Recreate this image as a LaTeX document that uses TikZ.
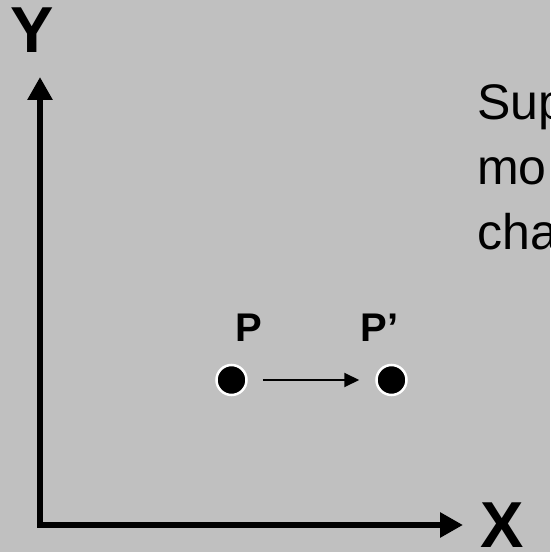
\documentclass[tikz,border=0pt]{standalone}
\usepackage{fontspec}
\setmainfont{Liberation Sans}
\usepackage{tikz}
\usetikzlibrary{arrows.meta, positioning}
\definecolor{slidegray}{HTML}{C0C0C0}
\tikzstyle{axis} = [line width=6pt, -{Triangle[width=24pt,length=23pt]}]
\tikzstyle{axislabel} = [inner sep=0pt, font=\fontsize{65}{70}\selectfont\bfseries]
\tikzstyle{point} = [circle, fill=black, draw=white, line width=2.5pt, minimum size=30pt, inner sep=0pt]
\tikzstyle{pointlabel} = [inner sep=0pt, font=\fontsize{40}{44}\selectfont\bfseries]
\tikzstyle{move} = [line width=2pt, -{Triangle[width=14pt,length=15pt]}]

\begin{document}
\begin{tikzpicture}[x=1pt, y=1pt, node distance=160pt]

% Canvas
\useasboundingbox (0,0) rectangle (550,552);
\clip (0,0) rectangle (550,552);
\fill[slidegray] (0,0) rectangle (550,552);

% Axes
\coordinate (origin) at (40,27);
\coordinate (ytip) at (40,475);
\coordinate (xtip) at (463,27);
\draw [axis] ([yshift=-3pt]origin) -- (ytip);
\draw [axis] ([xshift=-3pt]origin) -- (xtip);
\node (ylabel) [axislabel] at (32,522) {Y};
\node (xlabel) [axislabel] at (502,27) {X};

% Points
\node (pdot) [point] at (231.5,172) {};
\node (pdotnew) [point, right of=pdot] {};
\node (plabel) [pointlabel, above of=pdot, node distance=52.5pt, xshift=17pt] {P};
\node (plabelnew) [pointlabel, above of=pdotnew, node distance=52.5pt, xshift=-12pt] {P’};

% Movement
\draw [move, shorten <=15pt, shorten >=16pt] (pdot) -- (pdotnew);

% Text (base is the last line)
\node (note) [anchor=base west, align=left, inner sep=0pt, font=\fontsize{50}{65}\selectfont] at (477,302) {Sup\\mo\\cha};

\end{tikzpicture}
\end{document}
